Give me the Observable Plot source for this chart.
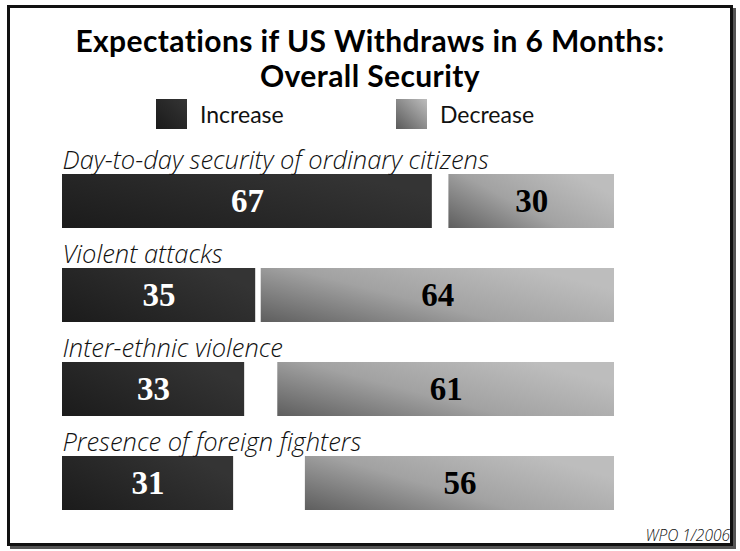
<!DOCTYPE html>
<html>
<head>
<meta charset="utf-8">
<script src="https://cdn.jsdelivr.net/npm/d3@7"></script>
<script src="https://cdn.jsdelivr.net/npm/@observablehq/plot@0.6"></script>
<style>
  html, body { margin: 0; padding: 0; background: #fff; }
  #page { position: relative; width: 740px; height: 551px; overflow: hidden; background: #fff; font-family: Lato, "Open Sans", sans-serif; }
  #frame { position: absolute; left: 7px; top: 5px; width: 720px; height: 535px; border: 3px solid #111; box-shadow: 3px 3px 0 #555; pointer-events: none; }
  #title { position: absolute; left: 0; width: 740px; top: 23px; text-align: center; font-weight: 700; font-size: 30px; line-height: 35px; letter-spacing: 0.4px; color: #000; }
  .leg { position: absolute; top: 99px; height: 30px; display: flex; align-items: center; font-size: 23px; color: #111; }
  .sw { width: 31px; height: 30px; margin-right: 13px; }
  #chart { position: absolute; left: 0; top: 130px; }
  #caption { position: absolute; right: 10px; top: 524px; font-family: "Open Sans", sans-serif; font-style: italic; font-weight: 300; font-size: 15.5px; color: #111; }
</style>
</head>
<body>
<div id="page">
  <div id="title">Expectations if US Withdraws in 6 Months:<br>Overall Security</div>
  <div class="leg" style="left:156px"><div class="sw" style="background:linear-gradient(45deg,#1a1a1a,#353535)"></div>Increase</div>
  <div class="leg" style="left:396px"><div class="sw" style="background:linear-gradient(45deg,#5a5a5a,#bdbdbd)"></div>Decrease</div>
  <div id="chart"></div>
  <div id="caption">WPO 1/2006</div>
  <div id="frame"></div>
</div>
<script>
const categories = [
  "Day-to-day security of ordinary citizens",
  "Violent attacks",
  "Inter-ethnic violence",
  "Presence of foreign fighters"
];
const increase = [67, 35, 33, 31];
const decrease = [30, 64, 61, 56];
const seriesNames = ["Increase", "Decrease"];

const rows = categories.map((c, i) => ({category: c, increase: increase[i], decrease: decrease[i]}));

const plot = Plot.plot({
  width: 740,
  height: 400,
  marginLeft: 62,
  marginRight: 126,
  marginTop: 7,
  marginBottom: 15.67,
  x: {domain: [0, 100], axis: null},
  y: {domain: categories, axis: null, padding: 0},
  marks: [
    Plot.barX(rows, {y: "category", x1: 0, x2: "increase", fill: "url(#gInc)", insetTop: 36, insetBottom: 4, title: d => seriesNames[0]}),
    Plot.barX(rows, {y: "category", x1: d => 100 - d.decrease, x2: 100, fill: "url(#gDec)", insetTop: 36, insetBottom: 4, title: d => seriesNames[1]}),
    Plot.text(rows, {y: "category", x: 0, text: "category", textAnchor: "start", dy: -25, fontSize: 25.5, fontStyle: "italic", fontWeight: 300, fill: "#111", fontFamily: "'Open Sans', sans-serif"}),
    Plot.text(rows, {y: "category", x: d => d.increase / 2, text: d => String(d.increase), dy: 16, fontSize: 33, fontWeight: "bold", fill: "#fff", fontFamily: "'Liberation Serif', serif"}),
    Plot.text(rows, {y: "category", x: d => 100 - d.decrease / 2, text: d => String(d.decrease), dy: 16, fontSize: 33, fontWeight: "bold", fill: "#000", fontFamily: "'Liberation Serif', serif"})
  ]
});

const defs = d3.select(plot).insert("defs", ":first-child");
const gi = defs.append("linearGradient").attr("id", "gInc").attr("x1", 0).attr("y1", 1).attr("x2", 1).attr("y2", 0.4);
gi.append("stop").attr("offset", "0%").attr("stop-color", "#1b1b1b");
gi.append("stop").attr("offset", "100%").attr("stop-color", "#343434");
const gd = defs.append("linearGradient").attr("id", "gDec").attr("x1", 0).attr("y1", 1).attr("x2", 1).attr("y2", 0.4);
gd.append("stop").attr("offset", "0%").attr("stop-color", "#5e5e5e");
gd.append("stop").attr("offset", "50%").attr("stop-color", "#a2a2a2");
gd.append("stop").attr("offset", "100%").attr("stop-color", "#bdbdbd");

document.getElementById("chart").appendChild(plot);
</script>
</body>
</html>
